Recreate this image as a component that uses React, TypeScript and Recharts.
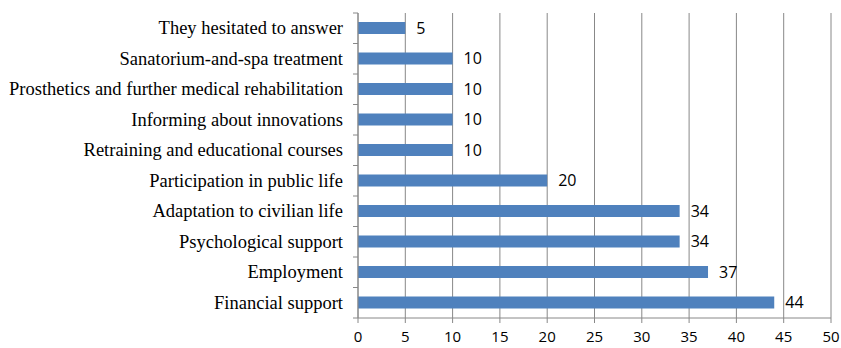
import React from 'react';
import { BarChart, Bar, XAxis, YAxis, CartesianGrid, LabelList } from 'recharts';

const categories = [
  'They hesitated to answer',
  'Sanatorium-and-spa treatment',
  'Prosthetics and further medical rehabilitation',
  'Informing about innovations ',
  'Retraining and educational courses',
  'Participation in public life',
  'Adaptation to civilian life',
  'Psychological support',
  'Employment',
  'Financial support'
];
const values = [5, 10, 10, 10, 10, 20, 34, 34, 37, 44];
const xTicks = [0, 5, 10, 15, 20, 25, 30, 35, 40, 45, 50];

const data = categories.map((name, i) => ({ name, value: values[i] }));

const GRID = '#888888';
const BAR = '#4F81BD';
const BAND = 305 / categories.length;
const SANS = '"Open Sans", "Liberation Sans", sans-serif';

// category label plus the small tick marks that sit between the bands
// (x arrives 8px left of the axis line: default tickSize 6 + tickMargin 2)
const CategoryTick = (props: any) => {
  const { x, y, payload, index } = props;
  const axisX = x + 8;
  const last = index === categories.length - 1;
  return (
    <g>
      <line x1={axisX - 5} x2={axisX} y1={y - BAND / 2} y2={y - BAND / 2} stroke={GRID} />
      {last && <line x1={axisX - 5} x2={axisX} y1={y + BAND / 2} y2={y + BAND / 2} stroke={GRID} />}
      <text
        x={axisX - 15}
        y={y}
        dy={6}
        textAnchor="end"
        fill="#000"
        style={{ fontFamily: '"Liberation Serif", serif', fontSize: 18.5 }}
      >
        {payload.value}
      </text>
    </g>
  );
};

const App: React.FC = () => {
  return (
    <div style={{ position: 'absolute', left: 0, top: 0, background: '#fff' }}>
      <BarChart
        width={841}
        height={348}
        data={data}
        layout="vertical"
        margin={{ top: 13, right: 10, bottom: 0, left: 0 }}
        barCategoryGap={9}
      >
        <CartesianGrid horizontal={false} stroke={GRID} strokeWidth={1} />
        <XAxis
          type="number"
          domain={[0, 50]}
          ticks={xTicks}
          interval={0}
          height={30}
          stroke={GRID}
          tickSize={5}
          tick={{ fill: '#000', fontSize: 15, fontFamily: SANS }}
          tickMargin={8}
        />
        <YAxis
          type="category"
          dataKey="name"
          width={358}
          stroke={GRID}
          tickLine={false}
          interval={0}
          tick={<CategoryTick />}
        />
        <Bar dataKey="value" fill={BAR} barSize={12} isAnimationActive={false}>
          <LabelList
            dataKey="value"
            position="right"
            offset={11}
            fill="#000"
            style={{ fontSize: 16, fontFamily: SANS }}
          />
        </Bar>
      </BarChart>
    </div>
  );
};

export default App;
